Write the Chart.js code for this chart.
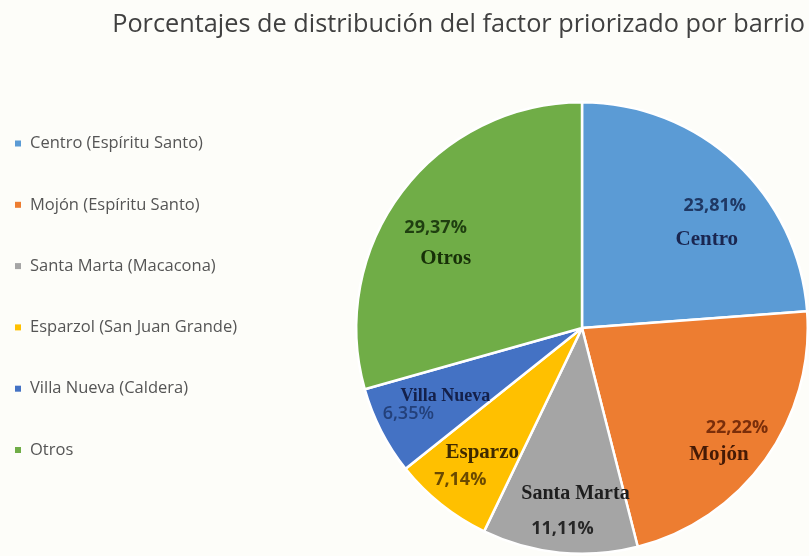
<!DOCTYPE html>
<html>
<head>
<meta charset="utf-8">
<script src="https://cdn.jsdelivr.net/npm/chart.js@4.4.0/dist/chart.umd.min.js"></script>
<style>
    body { margin: 0; background: #fdfdf9; }
    #myChart { display: block; }
</style>
</head>
<body>
<canvas id="myChart" width="809" height="556"></canvas>
<script>
const chartTitle = 'Porcentajes de distribución del factor priorizado por barrio';
const legendLabels = [
    'Centro (Espíritu Santo)',
    'Mojón (Espíritu Santo)',
    'Santa Marta (Macacona)',
    'Esparzol (San Juan Grande)',
    'Villa Nueva (Caldera)',
    'Otros'
];
const shortNames = ['Centro', 'Mojón', 'Santa Marta', 'Esparzo', 'Villa Nueva', 'Otros'];
const percentages = [23.81, 22.22, 11.11, 7.14, 6.35, 29.37];
const percentText = ['23,81%', '22,22%', '11,11%', '7,14%', '6,35%', '29,37%'];

const sliceColors = ['#5b9bd5', '#ed7d31', '#a5a5a5', '#ffc000', '#4472c4', '#70ad47'];
const pctColors = ['#1f3864', '#7a2e0a', '#262626', '#6b4a00', '#23407a', '#1f3f10'];
const nameColors = ['#1a2650', '#451a05', '#1e1e1e', '#3f2a00', '#14204a', '#173008'];

// desplazamientos de cada línea respecto al punto medio de la porción: [dxPct, dyPct, dxNombre, dyNombre]
const labelShift = [
    [13, 7, 5, 41],
    [12, -3, -6, 24],
    [-2, 26, 11, -9],
    [-12, 14, 10, -13],
    [-17, 5, 20, -12],
    [-6, 6, 4, 37]
];
const nameSizes = [21, 21, 20, 21, 18, 21];

// dibuja los textos dentro de cada porción
const sliceLabels = {
    id: 'sliceLabels',
    afterDatasetsDraw(chart) {
        const ctx = chart.ctx;
        const meta = chart.getDatasetMeta(0);
        meta.data.forEach((arc, i) => {
            const mid = (arc.startAngle + arc.endAngle) / 2;
            const r = arc.outerRadius * 0.78;
            const cx = arc.x + Math.cos(mid) * r;
            const cy = arc.y + Math.sin(mid) * r;
            const s = labelShift[i];
            ctx.save();
            ctx.textAlign = 'center';
            ctx.textBaseline = 'middle';
            ctx.font = (i === 4 ? '600 ' : 'bold ') + '18px "Open Sans"';
            ctx.fillStyle = pctColors[i];
            ctx.fillText(percentText[i], cx + s[0], cy + s[1]);
            ctx.font = 'bold ' + nameSizes[i] + 'px "Liberation Serif"';
            ctx.fillStyle = nameColors[i];
            ctx.fillText(shortNames[i], cx + s[2], cy + s[3]);
            ctx.restore();
        });
    }
};

// título y leyenda a la izquierda
const sideLegend = {
    id: 'sideLegend',
    afterDraw(chart) {
        const ctx = chart.ctx;
        ctx.save();
        ctx.font = '25.3px "Open Sans"';
        ctx.fillStyle = '#404040';
        ctx.textAlign = 'right';
        ctx.textBaseline = 'alphabetic';
        ctx.fillText(chartTitle, 805, 32);

        ctx.font = '16.5px "Open Sans"';
        ctx.textAlign = 'left';
        ctx.textBaseline = 'middle';
        legendLabels.forEach((label, i) => {
            const y = 143.5 + i * 61.3;
            ctx.fillStyle = sliceColors[i];
            ctx.fillRect(15, y - 3, 6, 6);
            ctx.fillStyle = '#555555';
            ctx.fillText(label, 30, y);
        });
        ctx.restore();
    }
};

const ctx = document.getElementById('myChart').getContext('2d');
const myChart = new Chart(ctx, {
    type: 'pie',
    data: {
        labels: legendLabels,
        datasets: [{
            data: percentages,
            backgroundColor: sliceColors,
            borderColor: '#ffffff',
            borderWidth: 2.5
        }]
    },
    options: {
        responsive: false,
        animation: false,
        layout: {
            padding: {left: 355, right: 0, top: 100, bottom: 0}
        },
        plugins: {
            legend: {display: false},
            tooltip: {enabled: false},
            title: {display: false}
        }
    },
    plugins: [sliceLabels, sideLegend]
});
</script>
</body>
</html>
